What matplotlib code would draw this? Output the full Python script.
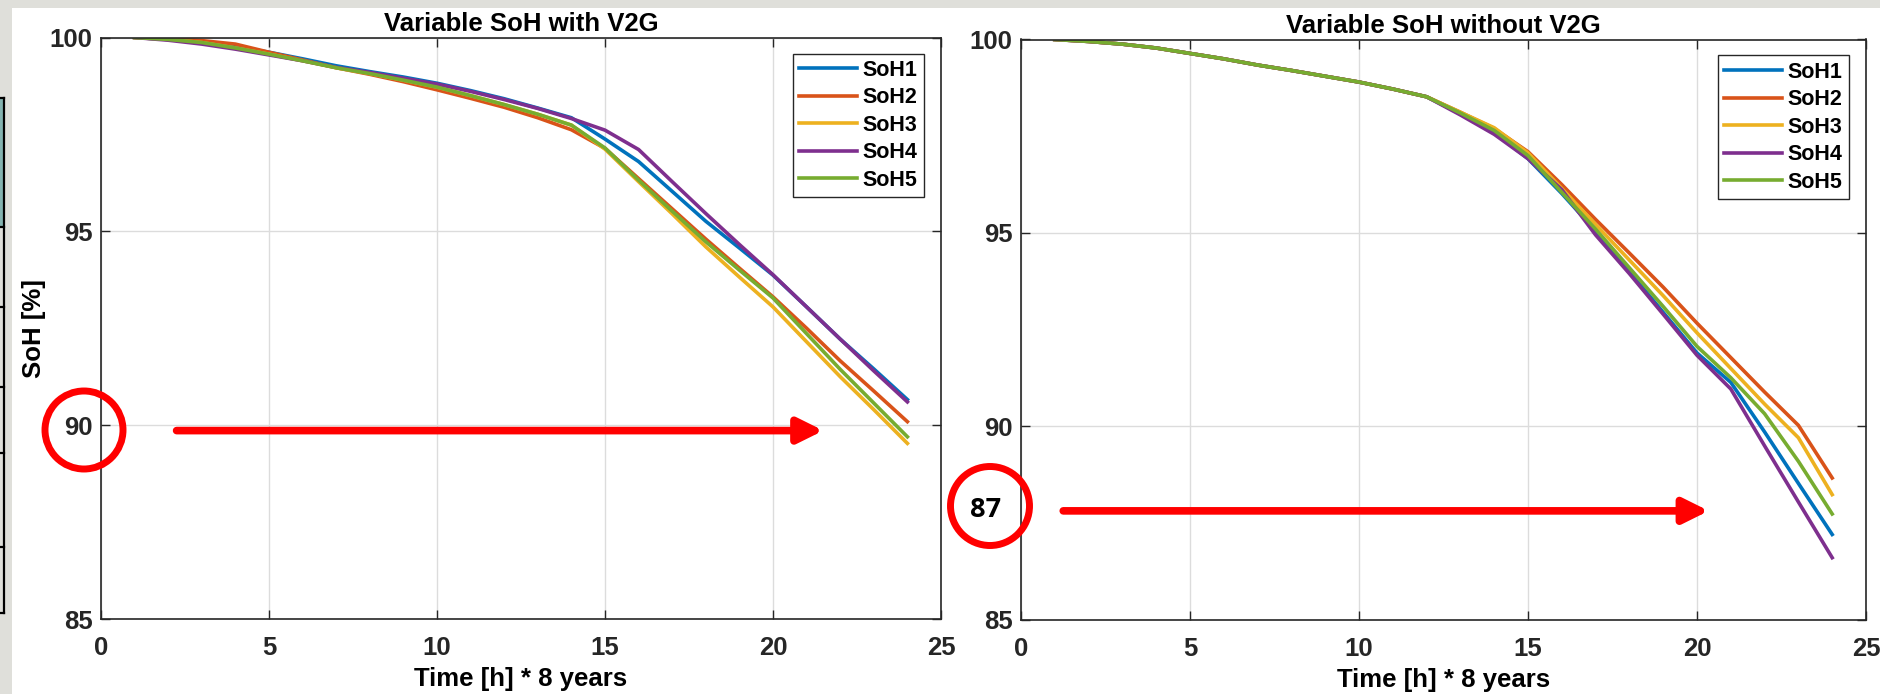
import numpy as np
import matplotlib

matplotlib.use("Agg")
import matplotlib.pyplot as plt
from matplotlib.patches import Ellipse, Rectangle
from matplotlib.lines import Line2D

plt.rcParams["font.family"] = ["Liberation Sans", "DejaVu Sans"]
plt.rcParams["font.weight"] = "bold"

# ---- data (x = time step 1..24) ----
steps = np.arange(1, 25)
labels = ["SoH1", "SoH2", "SoH3", "SoH4", "SoH5"]
colors = ["#0072BD", "#D95319", "#EDB120", "#7E2F8E", "#77AC30"]

# with V2G
v2g_soh1 = [100.0, 99.95, 99.88, 99.77, 99.62, 99.45, 99.27, 99.12, 98.98, 98.82, 98.63, 98.42,
            98.18, 97.93, 97.38, 96.80, 96.03, 95.26, 94.57, 93.87, 93.05, 92.22, 91.45, 90.66]
v2g_soh2 = [100.0, 99.97, 99.92, 99.83, 99.62, 99.42, 99.22, 99.05, 98.86, 98.65, 98.43, 98.20,
            97.93, 97.62, 97.14, 96.36, 95.58, 94.80, 94.05, 93.31, 92.50, 91.66, 90.88, 90.09]
v2g_soh3 = [100.0, 99.95, 99.87, 99.73, 99.57, 99.40, 99.22, 99.07, 98.90, 98.72, 98.50, 98.27,
            98.02, 97.74, 97.12, 96.28, 95.45, 94.60, 93.82, 93.05, 92.15, 91.25, 90.40, 89.53]
v2g_soh4 = [100.0, 99.93, 99.83, 99.70, 99.55, 99.40, 99.23, 99.10, 98.95, 98.80, 98.61, 98.40,
            98.17, 97.91, 97.61, 97.11, 96.28, 95.46, 94.66, 93.88, 93.05, 92.22, 91.40, 90.60]
v2g_soh5 = [100.0, 99.95, 99.87, 99.73, 99.57, 99.40, 99.22, 99.07, 98.90, 98.72, 98.50, 98.27,
            98.02, 97.74, 97.15, 96.32, 95.52, 94.73, 94.00, 93.28, 92.36, 91.44, 90.57, 89.70]

# without V2G
nov2g_soh1 = [100.0, 99.95, 99.88, 99.78, 99.64, 99.50, 99.34, 99.20, 99.05, 98.90, 98.72, 98.52,
              98.08, 97.60, 96.92, 96.02, 95.05, 94.00, 92.95, 91.90, 91.14, 89.86, 88.53, 87.21]
nov2g_soh2 = [100.0, 99.95, 99.88, 99.78, 99.64, 99.50, 99.34, 99.20, 99.05, 98.90, 98.72, 98.52,
              98.12, 97.70, 97.10, 96.25, 95.35, 94.48, 93.60, 92.67, 91.78, 90.89, 90.03, 88.67]
nov2g_soh3 = [100.0, 99.95, 99.88, 99.78, 99.64, 99.50, 99.34, 99.20, 99.05, 98.90, 98.72, 98.52,
              98.12, 97.72, 97.07, 96.15, 95.22, 94.30, 93.38, 92.42, 91.50, 90.58, 89.71, 88.24]
nov2g_soh4 = [100.0, 99.95, 99.88, 99.78, 99.64, 99.50, 99.34, 99.20, 99.05, 98.90, 98.72, 98.52,
              98.05, 97.55, 96.92, 96.12, 94.95, 93.95, 92.90, 91.84, 90.97, 89.50, 88.05, 86.61]
nov2g_soh5 = [100.0, 99.95, 99.88, 99.78, 99.64, 99.50, 99.34, 99.20, 99.05, 98.90, 98.72, 98.52,
              98.10, 97.65, 97.00, 96.05, 95.10, 94.10, 93.10, 92.07, 91.26, 90.33, 89.10, 87.74]

with_v2g = [v2g_soh1, v2g_soh2, v2g_soh3, v2g_soh4, v2g_soh5]
without_v2g = [nov2g_soh1, nov2g_soh2, nov2g_soh3, nov2g_soh4, nov2g_soh5]

W, H = 1881, 694


def fx(px):
    return px / W


def fy(py):
    return 1 - py / H


fig = plt.figure(figsize=(W / 100, H / 100), dpi=100, facecolor="#dfdfda")
# white slide area + the sliver of a table at the far left
fig.add_artist(Rectangle((fx(12), 0), 1, fy(7.5), transform=fig.transFigure,
                         fc="white", ec="none", zorder=-10))
fig.add_artist(Rectangle((0, fy(227)), fx(4), (227 - 98) / H, transform=fig.transFigure,
                         fc="#84b3b0", ec="none", zorder=-9))
fig.add_artist(Line2D([fx(4), fx(4)], [fy(98), fy(613)], transform=fig.transFigure,
                      color="black", lw=1.6, zorder=-8))
for yy in (98, 227, 307, 387, 453, 547, 613):
    fig.add_artist(Line2D([0, fx(4)], [fy(yy), fy(yy)], transform=fig.transFigure,
                          color="black", lw=1.6, zorder=-8))

ax1 = fig.add_axes([fx(101), fy(619), (941 - 101) / W, (619 - 37.5) / H])
ax2 = fig.add_axes([fx(1021), fy(620), (1866 - 1021) / W, (620 - 39.5) / H])

FS = 18.5
for ax, series, title in ((ax1, with_v2g, "Variable SoH with V2G"),
                          (ax2, without_v2g, "Variable SoH without V2G")):
    for ys, lab, col in zip(series, labels, colors):
        ax.plot(steps, ys, color=col, lw=2.6, label=lab)
    ax.set_xlim(0, 25)
    ax.set_ylim(85, 100)
    ax.set_xticks(np.arange(0, 26, 5))
    ax.set_yticks(np.arange(85, 101, 5))
    ax.grid(color="#dcdcdc", lw=1.0)
    ax.set_axisbelow(True)
    ax.tick_params(direction="in", length=6.5, width=1.0, top=True, right=True,
                   labelsize=FS, colors="#262626")
    ax.tick_params(axis="x", pad=12.5)
    ax.tick_params(axis="y", pad=6)
    for sp in ax.spines.values():
        sp.set_color("#262626")
        sp.set_linewidth(1.2)
    ax.set_title(title, fontsize=FS, fontweight="bold", pad=5)
    ax.set_xlabel("Time [h] * 8 years", fontsize=FS, fontweight="bold", labelpad=5)
    ax.legend(loc="upper right", bbox_to_anchor=(1 - 17 / 842, 1 - 16 / 581), borderaxespad=0,
              prop=dict(weight="bold", size=15.5), fancybox=False, framealpha=1,
              edgecolor="#262626", handlelength=2.7, handletextpad=0.25, labelspacing=0.3,
              borderpad=0.3)

ax1.set_ylabel("SoH [%]", fontsize=FS, fontweight="bold", labelpad=3)

# red highlight annotations
arrow_style = "-|>,head_length=1.25,head_width=0.62"
ax1.annotate("", xy=(21.5, 89.86), xytext=(2.25, 89.86),
             arrowprops=dict(arrowstyle=arrow_style, color="red",
                             lw=5.5, shrinkA=0, shrinkB=0, mutation_scale=12))
ax2.annotate("", xy=(20.35, 87.82), xytext=(1.25, 87.82),
             arrowprops=dict(arrowstyle=arrow_style, color="red",
                             lw=5.5, shrinkA=0, shrinkB=0, mutation_scale=12))
fig.add_artist(Ellipse((fx(84), fy(430)), 78 / W, 78 / H, transform=fig.transFigure,
                       fill=False, ec="red", lw=5, zorder=10))
fig.add_artist(Ellipse((fx(990), fy(506)), 79 / W, 79 / H, transform=fig.transFigure,
                       fill=False, ec="red", lw=5, zorder=10))
fig.text(fx(986), fy(510), "87", fontsize=19.5, fontweight="bold",
         family=["Open Sans", "DejaVu Sans"], ha="center", va="center")

fig.savefig("out.png", dpi=100, facecolor=fig.get_facecolor())
